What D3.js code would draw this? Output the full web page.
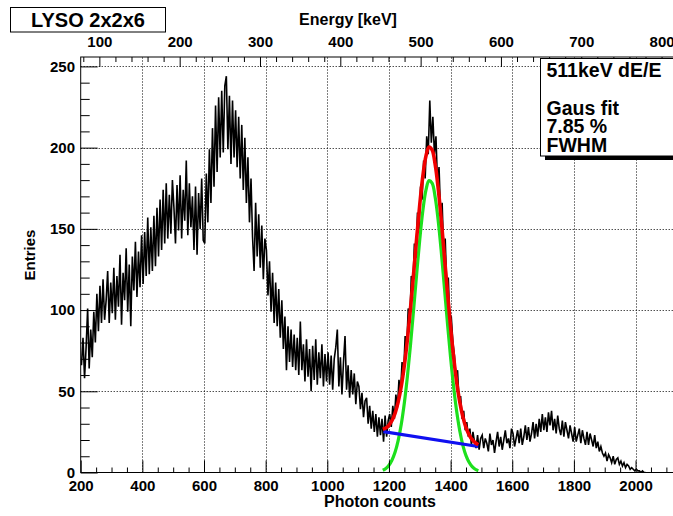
<!DOCTYPE html>
<html><head><meta charset="utf-8">
<script src="https://cdn.jsdelivr.net/npm/d3@7"></script>
<style>
body{margin:0;background:#fff}
svg{display:block}
text{font-family:"Liberation Sans",Arial,Helvetica,sans-serif;font-weight:bold;fill:#000}
</style>
</head><body>
<svg id="c" width="673" height="516"></svg>
<script>
// ---------------- data ----------------
const binStart = 200;
const binWidth = 5;
const counts = [
 66,83,58,77,101,64,88,71,99,80,110,87,115,92,119,94,106,124,92,117,
 98,126,94,121,102,134,91,123,106,138,99,128,90,133,112,142,108,136,114,146,
 116,148,121,157,122,151,124,158,127,163,133,168,137,174,141,178,144,171,147,180,
 163,141,177,149,183,144,174,155,192,146,178,151,170,137,176,134,172,150,181,143,
 141,184,154,199,166,212,176,226,185,231,194,235,197,238,244,199,232,190,229,194,
 223,188,219,181,214,174,206,166,194,154,181,145,124,166,133,159,126,152,119,144,
 137,109,130,99,123,92,117,90,113,83,106,76,96,63,90,68,88,65,85,63,
 83,60,93,63,79,56,82,59,76,50,78,57,82,54,74,58,79,53,73,56,
 74,54,72,51,70,77,88,53,71,48,68,84,51,66,46,63,48,61,42,56,
 53,39,49,34,44,46,30,41,27,38,25,36,22,34,23,33,19,35,22,32,
 36,28,41,33,48,40,57,49,68,60,84,76,101,92,121,114,141,132,160,150,
 176,168,192,181,207,196,229,203,219,196,207,178,188,159,166,137,144,115,120,93,
 95,80,72,58,63,44,47,33,38,26,31,22,27,17,25,19,15,23,14,21,
 23,15,21,18,13,24,17,20,12,19,25,16,22,14,20,26,18,21,15,27,
 24,16,21,26,18,27,17,22,29,20,28,19,24,31,21,30,22,33,25,36,
 26,34,25,37,29,38,26,33,24,35,27,23,32,22,31,26,21,29,24,19,
 28,19,23,27,18,26,21,17,25,17,24,20,16,23,15,19,13,16,12,10,
 12,7,11,9,6,10,5,8,9,5,7,4,6,3,5,4,2,3,2,1,
 2,1,1,0,1,0,0
];
const fitX = [1180,1190,1200,1210,1220,1230,1240,1250,1260,1270,1280,1290,1300,1310,1320,1330,
              1340,1350,1360,1370,1380,1390,1400,1410,1420,1430,1440,1450,1460,1470,1480,1490];
const fitTotal = [26.6,27.4,29.1,32.0,36.6,43.5,53.1,66.0,82.1,101.3,122.5,144.4,165.1,182.5,194.8,200.4,
                  198.6,189.6,174.5,154.9,132.9,110.5,89.4,70.8,55.3,43.2,34.1,27.6,23.2,20.2,18.3,17.1];
const fitGaus = [1.4,2.5,4.5,7.7,12.6,19.8,29.7,42.9,59.3,78.8,100.3,122.5,143.5,161.2,173.8,179.7,
                 178.2,169.5,154.7,135.4,113.6,91.5,70.7,52.4,37.2,25.4,16.6,10.4,6.3,3.6,2.0,1.1];
const bgX = [1182, 1490];
const bgY = [25.2, 16.0];
const xMajorTicks = [200,400,600,800,1000,1200,1400,1600,1800,2000,2200];
const xTickLabels = [200,400,600,800,1000,1200,1400,1600,1800,2000];
const yMajorTicks = [0,50,100,150,200,250];
const energyTicks = [100,200,300,400,500,600,700,800];
const titleText = "LYSO 2x2x6";
const statsLines = ["511keV dE/E","","Gaus fit","7.85 %","FWHM"];

// ---------------- layout ----------------
const svg = d3.select("#c");
const X0 = 80.7, X1 = 697.2, Y0 = 472.5, Y1 = 57;
const x = d3.scaleLinear().domain([200, 2200]).range([X0, X1]);
const y = d3.scaleLinear().domain([0, 255.8]).range([Y0, Y1]);
const kE = 0.3838;
const xE = d3.scaleLinear().domain([200 * kE, 2200 * kE]).range([X0, X1]);

svg.append("defs").append("clipPath").attr("id","plot")
  .append("rect").attr("x",X0).attr("y",Y1).attr("width",X1-X0).attr("height",Y0-Y1);

// grid
const grid = svg.append("g").attr("stroke","#000").attr("stroke-width",1).attr("stroke-dasharray","1,2");
grid.selectAll("line.vx").data(xMajorTicks.filter(v => v > 200)).join("line").attr("class","vx")
  .attr("x1", d => Math.round(x(d)) + 0.5).attr("x2", d => Math.round(x(d)) + 0.5)
  .attr("y1", Y0).attr("y2", Y1);
grid.selectAll("line.hy").data(yMajorTicks.filter(v => v > 0)).join("line").attr("class","hy")
  .attr("y1", d => Math.round(y(d)) + 0.5).attr("y2", d => Math.round(y(d)) + 0.5)
  .attr("x1", X0).attr("x2", X1);

// histogram
const plot = svg.append("g").attr("clip-path","url(#plot)");
plot.append("path").datum(counts)
  .attr("fill","none").attr("stroke","#000").attr("stroke-width",1.6).attr("stroke-linejoin","miter")
  .attr("d", d3.line().x((d,i) => x(binStart + i*binWidth + binWidth/2)).y(d => y(d)));

// fits
const fitLine = d3.line().x(d => x(d[0])).y(d => y(d[1])).curve(d3.curveCatmullRom);
plot.append("path").datum(fitX.map((v,i) => [v, fitGaus[i]]))
  .attr("fill","none").attr("stroke","#1de01d").attr("stroke-width",3.2).attr("d", fitLine);
plot.append("path").datum(bgX.map((v,i) => [v, bgY[i]]))
  .attr("fill","none").attr("stroke","#1010f0").attr("stroke-width",3.2).attr("d", d3.line().x(d=>x(d[0])).y(d=>y(d[1])));
plot.append("path").datum(fitX.map((v,i) => [v, fitTotal[i]]))
  .attr("fill","none").attr("stroke","#f00000").attr("stroke-width",3.6).attr("d", fitLine);

// axes
function styleAxis(g){
  g.attr("font-size",15).attr("font-family","'Liberation Sans',Arial,sans-serif").attr("font-weight","bold");
  g.select(".domain").remove();
  g.selectAll(".tick line").attr("stroke","#000");
}
const xMinor = d3.range(200, 2201, 50).filter(v => v % 200 !== 0);
const yMinor = d3.range(0, 256, 10).filter(v => v % 50 !== 0);
const eMinor = d3.range(80, 841, 20).filter(v => v % 100 !== 0);

svg.append("g").attr("transform",`translate(0,${Y0})`)
  .call(d3.axisBottom(x).tickValues(xMinor).tickSizeInner(-5).tickSizeOuter(0).tickFormat(""))
  .call(styleAxis);
svg.append("g").attr("transform",`translate(0,${Y0})`)
  .call(d3.axisBottom(x).tickValues(xMajorTicks).tickSizeInner(-12).tickSizeOuter(0).tickFormat(""))
  .call(styleAxis);
svg.append("g").attr("transform",`translate(0,${Y0})`)
  .call(d3.axisBottom(x).tickValues(xTickLabels).tickSizeInner(0).tickSizeOuter(0).tickPadding(7.5).tickFormat(d3.format("d")))
  .call(styleAxis);

svg.append("g").attr("transform",`translate(${X0},0)`)
  .call(d3.axisLeft(y).tickValues(yMinor).tickSizeInner(-9).tickSizeOuter(0).tickFormat(""))
  .call(styleAxis);
svg.append("g").attr("transform",`translate(${X0},0)`)
  .call(d3.axisLeft(y).tickValues(yMajorTicks).tickSizeInner(-17).tickSizeOuter(0).tickPadding(5.7).tickFormat(d3.format("d")))
  .call(styleAxis);

svg.append("g").attr("transform",`translate(0,${Y1})`)
  .call(d3.axisTop(xE).tickValues(eMinor).tickSizeInner(-5).tickSizeOuter(0).tickFormat(""))
  .call(styleAxis);
svg.append("g").attr("transform",`translate(0,${Y1})`)
  .call(d3.axisTop(xE).tickValues(energyTicks).tickSizeInner(-10).tickSizeOuter(0).tickPadding(10).tickFormat(d3.format("d")))
  .call(styleAxis);

// frame
svg.append("rect").attr("x",X0).attr("y",Y1).attr("width",X1-X0).attr("height",Y0-Y1)
  .attr("fill","none").attr("stroke","#000").attr("stroke-width",1);

// axis titles
svg.append("text").attr("x",380).attr("y",506.5).attr("text-anchor","middle").attr("font-size",16).text("Photon counts");
svg.append("text").attr("x",348).attr("y",25).attr("text-anchor","middle").attr("font-size",16).text("Energy [keV]");
svg.append("text").attr("transform","translate(35,255) rotate(-90)").attr("text-anchor","middle").attr("font-size",15).text("Entries");

// title box
svg.append("rect").attr("x",10.5).attr("y",7.5).attr("width",155).attr("height",24.5)
  .attr("fill","#fff").attr("stroke","#000").attr("stroke-width",1);
svg.append("text").attr("x",88).attr("y",27).attr("text-anchor","middle").attr("font-size",20).text(titleText);

// stats box
svg.append("rect").attr("x",545).attr("y",156).attr("width",200).attr("height",4).attr("fill","#000");
svg.append("rect").attr("x",540.5).attr("y",58.5).attr("width",200).attr("height",97.5)
  .attr("fill","#fff").attr("stroke","#000").attr("stroke-width",1);
svg.append("g").selectAll("text").data(statsLines).join("text")
  .attr("x",546.5).attr("y",(d,i) => 77.3 + i*18.6).attr("font-size",19.5).text(d => d);
</script>
</body></html>
